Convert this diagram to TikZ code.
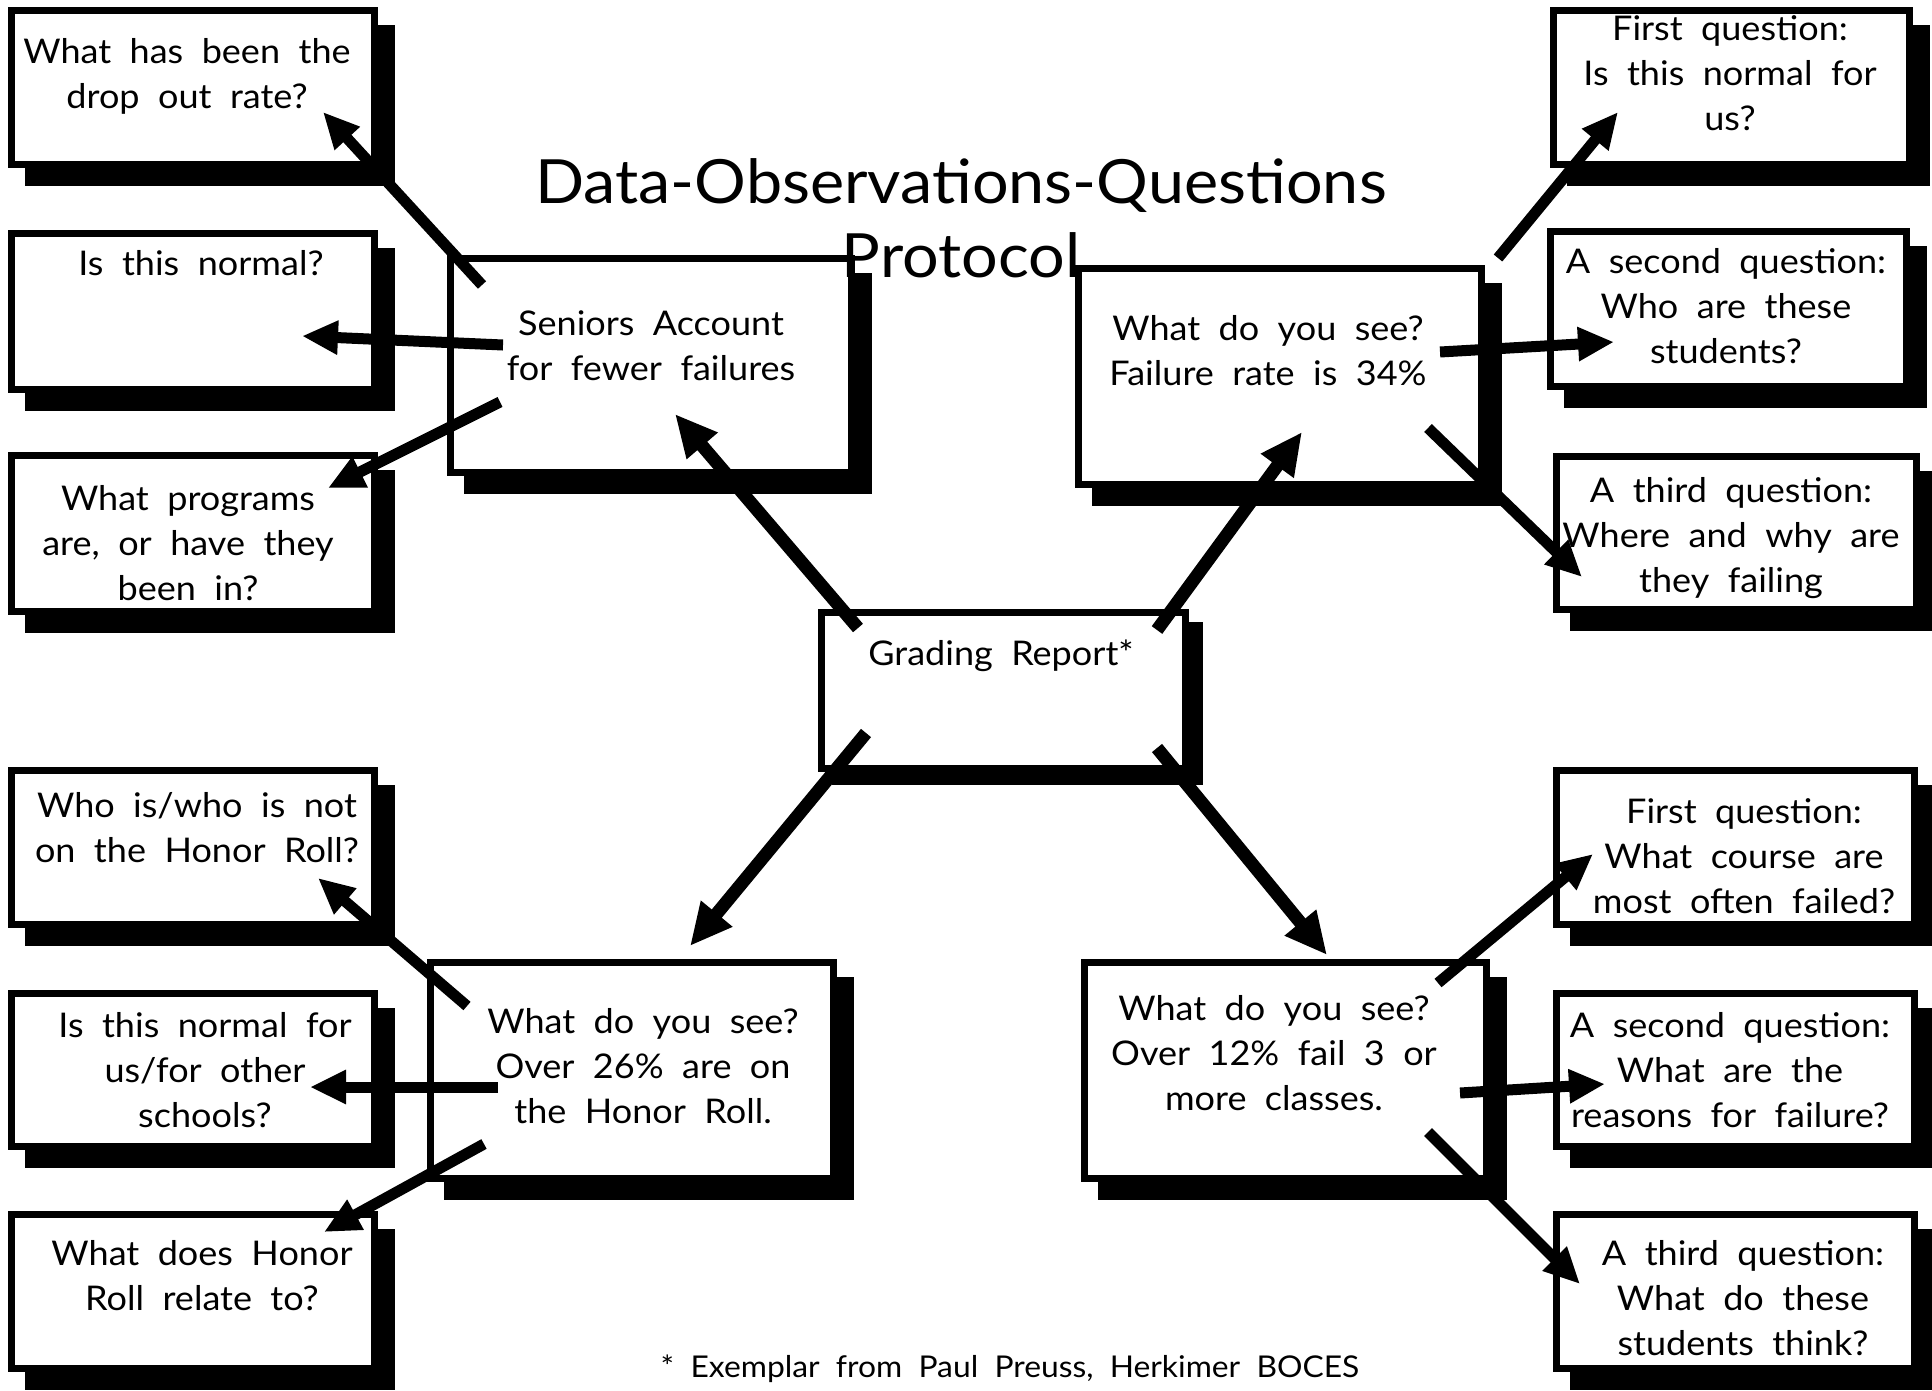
\documentclass[tikz,border=0pt]{standalone}
\usepackage{fontspec}
\setmainfont{Lato}[WordSpace=2, FakeStretch=1.06]
\usetikzlibrary{arrows.meta}
\newcommand\fstrut[1]{\rule{0pt}{#1pt}}
\begin{document}
\begin{tikzpicture}[x=1pt,y=-1pt,
  boxbase/.style={draw=black, line width=7pt, fill=white, inner sep=0pt, outer sep=0pt},
  qbox/.style={boxbase, preaction={draw=black, fill=black, line width=7pt, transform canvas={xshift=17pt, yshift=-18pt}}},
  gbox/.style={boxbase, preaction={draw=black, fill=black, line width=7pt, transform canvas={xshift=14pt, yshift=-13pt}}},
  txt/.style={anchor=north, inner sep=0pt, align=center, font=\fontsize{34}{45}\selectfont},
  link/.style={line width=11pt, -{Triangle[length=36pt,width=32pt]}},
  mainlink/.style={line width=13pt, -{Triangle[length=42pt,width=38pt]}},
]
\useasboundingbox[fill=white] (0,0) rectangle (1932,1390);

% left column
\node[qbox, minimum width=363pt, minimum height=154pt] (L1) at (193,87.5) {};
\node[qbox, minimum width=363pt, minimum height=156pt] (L2) at (193,311.5) {};
\node[qbox, minimum width=363pt, minimum height=156pt] (L3) at (193,533.5) {};
\node[qbox, minimum width=363pt, minimum height=154pt] (L4) at (193,847.5) {};
\node[qbox, minimum width=363pt, minimum height=153pt] (L5) at (193,1070) {};
\node[qbox, minimum width=363pt, minimum height=154pt] (L6) at (193,1291.5) {};
% right column
\node[qbox, minimum width=356pt, minimum height=154pt] (R1) at (1731.5,87.5) {};
\node[qbox, minimum width=356pt, minimum height=155pt] (R2) at (1728.5,309) {};
\node[qbox, minimum width=360pt, minimum height=153pt] (R3) at (1736.5,533) {};
\node[qbox, minimum width=358pt, minimum height=154pt] (R4) at (1735.5,847.5) {};
\node[qbox, minimum width=358pt, minimum height=153pt] (R5) at (1735.5,1070) {};
\node[qbox, minimum width=358pt, minimum height=154pt] (R6) at (1735.5,1291.5) {};
% middle
\node[qbox, minimum width=401pt, minimum height=214pt] (SEN) at (651,365.5) {};
\node[qbox, minimum width=403pt, minimum height=216pt] (FR) at (1280,376.5) {};
\node[gbox, minimum width=364pt, minimum height=156pt] (GR) at (1003.5,690.5) {};
\node[qbox, minimum width=403pt, minimum height=216pt] (HR) at (632,1070.5) {};
\node[qbox, minimum width=402pt, minimum height=216pt] (FC) at (1285.5,1070.5) {};

% connector end points
\coordinate (s1) at (482,285);   \coordinate (e1) at (323,112);
\coordinate (s2) at (503,345);   \coordinate (e2) at (302,336);
\coordinate (s3) at (500,402);   \coordinate (e3) at (328,488);
\coordinate (s4) at (858,628);   \coordinate (e4) at (675,414);
\coordinate (s5) at (1157,630);  \coordinate (e5) at (1302,432);
\coordinate (s6) at (1498,258);  \coordinate (e6) at (1618,112);
\coordinate (s7) at (1440,352);  \coordinate (e7) at (1614,342);
\coordinate (s8) at (1428,428);  \coordinate (e8) at (1582,577);
\coordinate (s9) at (866,733);   \coordinate (e9) at (690,946);
\coordinate (s10) at (1157,748); \coordinate (e10) at (1327,955);
\coordinate (s11) at (467,1006); \coordinate (e11) at (318,878);
\coordinate (s12) at (498,1087); \coordinate (e12) at (310,1087);
\coordinate (s13) at (484,1144); \coordinate (e13) at (324,1232);
\coordinate (s14) at (1438,983); \coordinate (e14) at (1593,854);
\coordinate (s15) at (1460,1093);\coordinate (e15) at (1605,1084);
\coordinate (s16) at (1428,1132);\coordinate (e16) at (1580,1284);

\draw[link] (s1) -- (e1);
\draw[link] (s2) -- (e2);
\draw[link] (s3) -- (e3);
\draw[mainlink] (s4) -- (e4);
\draw[mainlink] (s5) -- (e5);
\draw[link] (s6) -- (e6);
\draw[link] (s7) -- (e7);
\draw[link] (s8) -- (e8);
\draw[mainlink] (s9) -- (e9);
\draw[mainlink] (s10) -- (e10);
\draw[link] (s11) -- (e11);
\draw[link] (s12) -- (e12);
\draw[link] (s13) -- (e13);
\draw[link] (s14) -- (e14);
\draw[link] (s15) -- (e15);
\draw[link] (s16) -- (e16);

% texts
\node[txt] (tL1) at (187,33) {\fstrut{30}What has been the\\drop out rate?};
\node[txt] (tL2) at (201,245) {\fstrut{30}Is this normal?};
\node[txt] (tL3) at (188,480) {\fstrut{30}What programs\\are, or have they\\been in?};
\node[txt] (tL4) at (197,787) {\fstrut{30}Who is/who is not\\on the Honor Roll?};
\node[txt] (tL5) at (205,1007) {\fstrut{30}Is this normal for\\us/for other\\schools?};
\node[txt] (tL6) at (202,1235) {\fstrut{30}What does Honor\\Roll relate to?};
\node[txt] (tR1) at (1730,10) {\fstrut{30}First question:\\Is this normal for\\us?};
\node[txt] (tR2) at (1726,243) {\fstrut{30}A second question:\\Who are these\\students?};
\node[txt] (tR3) at (1731,472) {\fstrut{30}A third question:\\Where and why are\\they failing};
\node[txt] (tR4) at (1744,793) {\fstrut{30}First question:\\What course are\\most often failed?};
\node[txt] (tR5) at (1730,1007) {\fstrut{30}A second question:\\What are the\\reasons for failure?};
\node[txt] (tR6) at (1743,1235) {\fstrut{30}A third question:\\What do these\\students think?};
\node[txt] (tSEN) at (651,305) {\fstrut{30}Seniors Account\\for fewer failures};
\node[txt] (tFR) at (1268,310) {\fstrut{30}What do you see?\\Failure rate is 34\%};
\node[txt] (tGR) at (1001,635) {\fstrut{30}Grading Report*};
\node[txt] (tHR) at (643,1003) {\fstrut{30}What do you see?\\Over 26\% are on\\the Honor Roll.};
\node[txt] (tFC) at (1274,990) {\fstrut{30}What do you see?\\Over 12\% fail 3 or\\more classes.};

\node[txt, font=\fontsize{61}{74}\selectfont] (title) at (961,151) {\fstrut{52}Data-Observations-Questions\\Protocol};
\node[txt, font=\fontsize{30}{36}\selectfont] (foot) at (1010,1347) {\fstrut{30}* Exemplar from Paul Preuss, Herkimer BOCES};
\end{tikzpicture}
\end{document}
